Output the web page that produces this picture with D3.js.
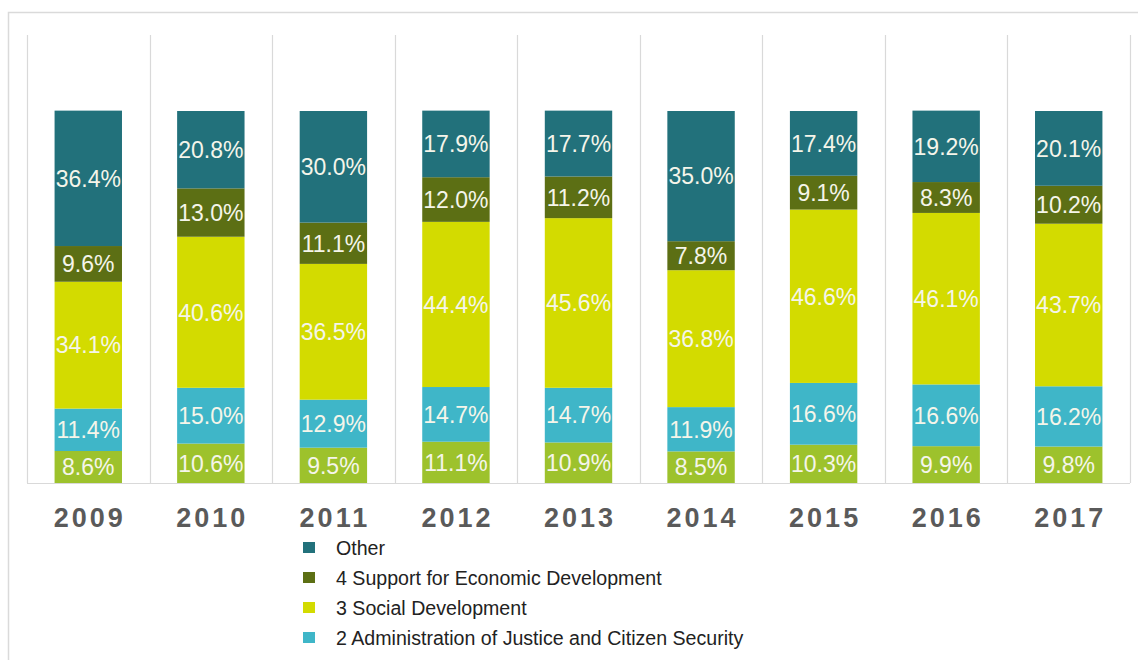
<!DOCTYPE html>
<html>
<head>
<meta charset="utf-8">
<script src="https://cdn.jsdelivr.net/npm/d3@7"></script>
<style>
  html, body { margin: 0; padding: 0; background: #ffffff; }
  svg { display: block; font-family: Arial, "Liberation Sans", sans-serif; }
</style>
</head>
<body>
<svg id="chart" width="1138" height="660"></svg>
<script>
// Share of spending by programme area, per year (percent)
const years = ["2009", "2010", "2011", "2012", "2013", "2014", "2015", "2016", "2017"];

const programme1 = [8.6, 10.6, 9.5, 11.1, 10.9, 8.5, 10.3, 9.9, 9.8];
const justiceSecurity = [11.4, 15.0, 12.9, 14.7, 14.7, 11.9, 16.6, 16.6, 16.2];
const socialDevelopment = [34.1, 40.6, 36.5, 44.4, 45.6, 36.8, 46.6, 46.1, 43.7];
const economicSupport = [9.6, 13.0, 11.1, 12.0, 11.2, 7.8, 9.1, 8.3, 10.2];
const other = [36.4, 20.8, 30.0, 17.9, 17.7, 35.0, 17.4, 19.2, 20.1];

// Stacking order, bottom to top
const seriesKeys = ["p1", "p2", "p3", "p4", "other"];
const seriesValues = {
  p1: programme1,
  p2: justiceSecurity,
  p3: socialDevelopment,
  p4: economicSupport,
  other: other
};
const seriesColors = {
  p1: "#9dc22c",
  p2: "#3fb6c8",
  p3: "#d3db00",
  p4: "#5c6f14",
  other: "#22717b"
};

// Legend entries, top to bottom
const legendKeys = ["other", "p4", "p3", "p2"];
const legendLabels = [
  "Other",
  "4 Support for Economic Development",
  "3 Social Development",
  "2 Administration of Justice and Citizen Security"
];

const rows = years.map((y, i) => {
  const r = { year: y };
  seriesKeys.forEach(k => { r[k] = seriesValues[k][i]; });
  return r;
});

const svg = d3.select("#chart");

// Outer frame
svg.append("rect")
  .attr("x", 8.5).attr("y", 12.5)
  .attr("width", 1200).attr("height", 700)
  .attr("fill", "none")
  .attr("stroke", "#dadada")
  .attr("stroke-width", 1.5);

const plotLeft = 27, plotRight = 1130, plotTop = 111, plotBottom = 483;

const x = d3.scaleBand()
  .domain(years)
  .range([plotLeft, plotRight])
  .paddingInner(0.45)
  .paddingOuter(0.225);

const y = d3.scaleLinear()
  .domain([0, 100])
  .range([plotBottom, plotTop]);

// Vertical separators between years
const step = x.step();
const sepX = d3.range(years.length + 1).map(i => plotLeft + i * step);
svg.append("g")
  .selectAll("line")
  .data(sepX)
  .join("line")
  .attr("x1", d => Math.round(d) + 0.5)
  .attr("x2", d => Math.round(d) + 0.5)
  .attr("y1", 35)
  .attr("y2", plotBottom)
  .attr("stroke", "#d9d9d9")
  .attr("stroke-width", 1.2);

// Baseline
svg.append("line")
  .attr("x1", plotLeft).attr("x2", plotRight)
  .attr("y1", plotBottom + 0.5).attr("y2", plotBottom + 0.5)
  .attr("stroke", "#d9d9d9")
  .attr("stroke-width", 1.2);

const stacked = d3.stack().keys(seriesKeys)(rows);

const layers = svg.append("g")
  .selectAll("g.layer")
  .data(stacked)
  .join("g")
  .attr("class", "layer")
  .attr("fill", d => seriesColors[d.key]);

layers.selectAll("rect")
  .data(d => d)
  .join("rect")
  .attr("x", d => x(d.data.year))
  .attr("width", x.bandwidth())
  .attr("y", d => y(d[1]))
  .attr("height", d => y(d[0]) - y(d[1]));

// Segment value labels
const labelGroup = svg.append("g")
  .attr("font-size", 23)
  .attr("fill", "#f5f5ea")
  .attr("text-anchor", "middle");

stacked.forEach(layer => {
  layer.forEach(d => {
    const v = d.data[layer.key];
    labelGroup.append("text")
      .attr("x", x(d.data.year) + x.bandwidth() / 2)
      .attr("y", (y(d[0]) + y(d[1])) / 2)
      .attr("dy", "0.36em")
      .text(v.toFixed(1) + "%");
  });
});

// Year axis
const xAxis = svg.append("g")
  .attr("transform", `translate(0,${plotBottom})`)
  .call(d3.axisBottom(x).tickSize(0).tickPadding(0));
xAxis.select(".domain").remove();
xAxis.selectAll("text")
  .attr("y", 44)
  .attr("dy", 0)
  .attr("dx", "1.5px")
  .attr("font-family", "Arial, 'Liberation Sans', sans-serif")
  .attr("font-size", 27)
  .attr("font-weight", "bold")
  .attr("letter-spacing", "3px")
  .attr("fill", "#5a5a5a");

// Legend
const legend = svg.append("g").attr("transform", "translate(303,0)");
const legendY = d3.scalePoint().domain(legendKeys).range([548, 638]);
const items = legend.selectAll("g")
  .data(legendKeys)
  .join("g")
  .attr("transform", d => `translate(0,${legendY(d)})`);
items.append("rect")
  .attr("x", 0).attr("y", -6)
  .attr("width", 12).attr("height", 11)
  .attr("fill", d => seriesColors[d]);
items.append("text")
  .attr("x", 33)
  .attr("y", 0)
  .attr("dy", "0.35em")
  .attr("font-size", 19.6)
  .attr("fill", "#222222")
  .text((d, i) => legendLabels[i]);
</script>
</body>
</html>
